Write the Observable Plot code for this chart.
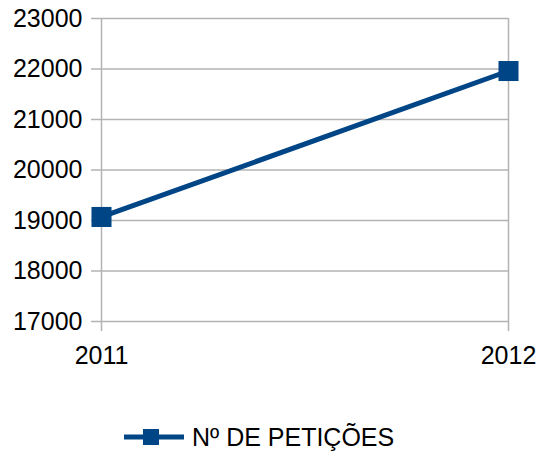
<!DOCTYPE html>
<html>
<head>
<meta charset="utf-8">
<script src="https://cdn.jsdelivr.net/npm/d3@7"></script>
<script src="https://cdn.jsdelivr.net/npm/@observablehq/plot@0.6"></script>
<style>
  body { margin: 0; background: #fff; font-family: "Liberation Sans", Arial, sans-serif; }
  #chart { position: relative; width: 539px; height: 452px; }
  #legend { position: absolute; left: 124px; top: 422px; height: 30px; display: flex; align-items: center; font-size: 25px; color: #000; }
  #legend svg { margin-right: 8px; }
</style>
</head>
<body>
<div id="chart"></div>
<script>
const years = ["2011", "2012"];
const peticoes = [19070, 21960];
const yTicks = [17000, 18000, 19000, 20000, 21000, 22000, 23000];
const seriesName = "Nº DE PETIÇÕES";
const color = "#004586";
const grid = "#b3b3b3";

const data = years.map((y, i) => ({year: y, value: peticoes[i]}));

const plot = Plot.plot({
  width: 539,
  height: 410,
  marginLeft: 101,
  marginRight: 31,
  marginTop: 18,
  marginBottom: 89,
  style: {fontFamily: "Liberation Sans, Arial, sans-serif", fontSize: "25px", color: "#000", background: "#fff"},
  x: {type: "point", domain: years, padding: 0},
  y: {domain: [17000, 23000]},
  marks: [
    Plot.ruleY(yTicks, {stroke: grid, strokeWidth: 1.5}),
    Plot.ruleX(years, {stroke: grid, strokeWidth: 1.5}),
    Plot.axisY(yTicks, {tickSize: 10, tickPadding: 9, stroke: grid, strokeWidth: 1.5, strokeOpacity: 1, tickFormat: d => String(d), fill: "#000", label: null}),
    Plot.axisX(years, {tickSize: 10, tickPadding: 15, stroke: grid, strokeWidth: 1.5, strokeOpacity: 1, fill: "#000", label: null}),
    Plot.line(data, {x: "year", y: "value", stroke: color, strokeWidth: 5}),
    Plot.dot(data, {x: "year", y: "value", symbol: "square", r: 11.3, fill: color, stroke: "none"})
  ]
});
const chart = document.getElementById("chart");
chart.appendChild(plot);

const legend = document.createElement("div");
legend.id = "legend";
legend.innerHTML = `<svg width="60" height="30"><line x1="0" x2="60" y1="15" y2="15" stroke="${color}" stroke-width="5"/><rect x="19" y="7" width="16" height="16" fill="${color}"/></svg><span>${seriesName}</span>`;
chart.appendChild(legend);
</script>
</body>
</html>
